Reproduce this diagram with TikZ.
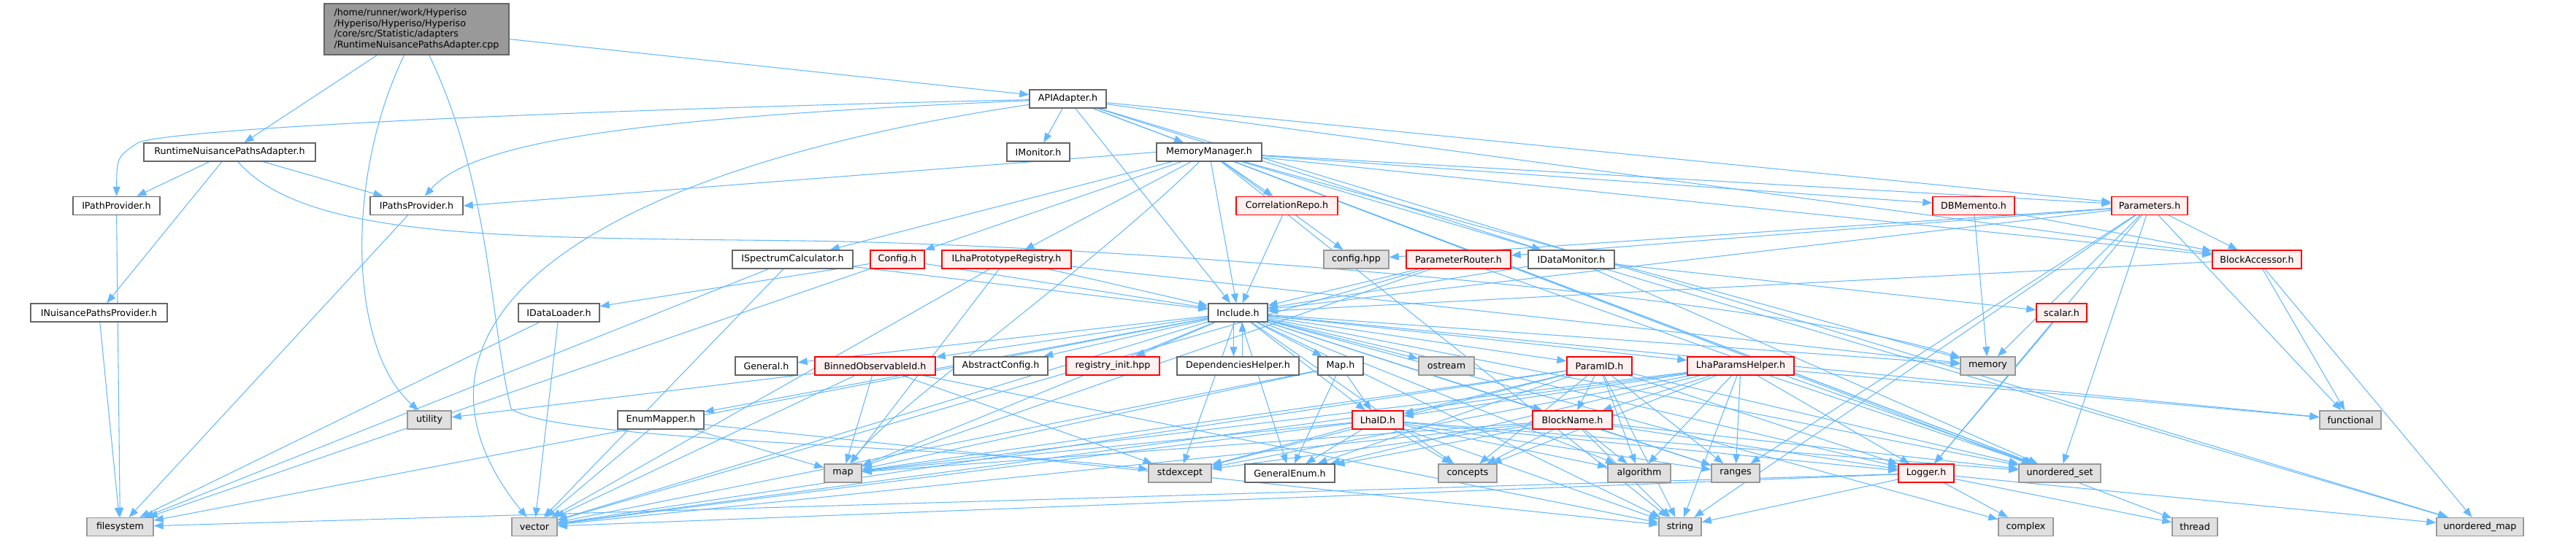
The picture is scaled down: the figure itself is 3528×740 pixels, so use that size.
\documentclass[tikz,border=0pt]{standalone}
\usepackage{fontspec}
\setmainfont{DejaVu Sans}
\usetikzlibrary{
	arrows.meta				% Triangle tips on the include arrows
	, backgrounds			% Keeps the arrows behind the boxes
}
\definecolor{edgeblue}{HTML}{63B8FF}
\definecolor{plaindraw}{HTML}{666666}
\definecolor{redfill}{HTML}{FFF0F0}
\definecolor{sysfill}{HTML}{E0E0E0}
\definecolor{sysdraw}{HTML}{999999}
\definecolor{srcfill}{HTML}{999999}

\begin{document}
\begin{tikzpicture}[
		x=0.02cm, y=-0.02cm
		, font=\fontsize{7.2}{8.3}\selectfont
		, file/.style={draw=plaindraw, fill=white, line width=0.8pt, minimum height=0.5cm, inner sep=0pt}
		, wd/.style={minimum width=#1*0.02cm}
		, redfile/.style={file, draw=red, fill=redfill}
		, sysfile/.style={file, draw=sysdraw, fill=sysfill}
		, srcfile/.style={file, fill=srcfill}
		, incl/.style={-{Triangle[length=0.26cm,width=0.2cm]}, draw=edgeblue, line width=0.6pt}
	]
	\useasboundingbox (0,0) rectangle (3528,740);

	% The adapter source file on top
	\node[srcfile, wd=253, minimum height=1.4cm, align=left] (src) at (570.5,40) {/home/runner/work/Hyperiso\\/Hyperiso/Hyperiso/Hyperiso\\/core/src/Statistic/adapters\\/RuntimeNuisancePathsAdapter.cpp};

	% Headers of the project
	\node[file, wd=235] (rnpa) at (314.5,208.5) {RuntimeNuisancePathsAdapter.h};
	\node[file, wd=105] (api) at (1462.5,135.5) {APIAdapter.h};
	\node[file, wd=119] (ipath) at (159.5,282) {IPathProvider.h};
	\node[file, wd=127] (ipaths) at (570.5,282) {IPathsProvider.h};
	\node[file, wd=187] (inuis) at (135.5,428.5) {INuisancePathsProvider.h};
	\node[file, wd=86] (imon) at (1422,208.5) {IMonitor.h};
	\node[file, wd=144] (memmgr) at (1656,208.5) {MemoryManager.h};
	\node[redfile, wd=139] (corr) at (1762.5,282) {CorrelationRepo.h};
	\node[redfile, wd=112] (dbm) at (2703,282) {DBMemento.h};
	\node[redfile, wd=104] (params) at (2944,282) {Parameters.h};
	\node[file, wd=165] (ispec) at (1085.5,355.5) {ISpectrumCalculator.h};
	\node[redfile, wd=74] (config) at (1229,355.5) {Config.h};
	\node[redfile, wd=177] (ilha) at (1378.5,355.5) {ILhaPrototypeRegistry.h};
	\node[sysfile, wd=89] (cfghpp) at (1857.5,355.5) {config.hpp};
	\node[redfile, wd=143] (prouter) at (1997.5,355.5) {ParameterRouter.h};
	\node[file, wd=118] (idmon) at (2152,355.5) {IDataMonitor.h};
	\node[redfile, wd=122] (baccess) at (3091,355.5) {BlockAccessor.h};
	\node[file, wd=111] (idload) at (765.5,428.5) {IDataLoader.h};
	\node[file, wd=81] (include) at (1695.5,428.5) {Include.h};
	\node[redfile, wd=69] (scalar) at (2823.5,428.5) {scalar.h};
	\node[file, wd=85] (general) at (1049.5,501.5) {General.h};
	\node[redfile, wd=165] (binned) at (1198.5,501.5) {BinnedObservableId.h};
	\node[file, wd=129] (absconf) at (1370.5,501.5) {AbstractConfig.h};
	\node[redfile, wd=128] (reginit) at (1524,501.5) {registry\_init.hpp};
	\node[file, wd=167] (dephelp) at (1695.5,501.5) {DependenciesHelper.h};
	\node[file, wd=62] (maph) at (1836,501.5) {Map.h};
	\node[sysfile, wd=76] (ostream) at (1981,501.5) {ostream};
	\node[redfile, wd=89] (paramid) at (2190.5,501.5) {ParamID.h};
	\node[redfile, wd=146] (lhaph) at (2384,501.5) {LhaParamsHelper.h};
	\node[sysfile, wd=75] (memory) at (2722.5,501.5) {memory};
	\node[sysfile, wd=60] (utility) at (588,575.5) {utility};
	\node[file, wd=118] (enummap) at (905,575.5) {EnumMapper.h};
	\node[redfile, wd=70] (lhaid) at (1887,575.5) {LhaID.h};
	\node[redfile, wd=109] (blockname) at (2153.5,575.5) {BlockName.h};
	\node[sysfile, wd=84] (functional) at (3219,575.5) {functional};
	\node[sysfile, wd=51] (map) at (1154.5,648.5) {map};
	\node[sysfile, wd=86] (stdexcept) at (1616,648.5) {stdexcept};
	\node[file, wd=123] (genenum) at (1766.5,648.5) {GeneralEnum.h};
	\node[sysfile, wd=80] (concepts) at (2010,648.5) {concepts};
	\node[sysfile, wd=86] (algorithm) at (2245,648.5) {algorithm};
	\node[sysfile, wd=66] (ranges) at (2377,648.5) {ranges};
	\node[redfile, wd=76] (logger) at (2638,648.5) {Logger.h};
	\node[sysfile, wd=112] (uset) at (2821,648.5) {unordered\_set};
	\node[sysfile, wd=91] (filesystem) at (164.5,722) {filesystem};
	\node[sysfile, wd=62] (vector) at (732,722) {vector};
	\node[sysfile, wd=58] (string) at (2301,722) {string};
	\node[sysfile, wd=75] (complex) at (2774.5,722) {complex};
	\node[sysfile, wd=62] (thread) at (3006,722) {thread};
	\node[sysfile, wd=119] (umap) at (3396.5,722) {unordered\_map};

	% Include arrows, one loop per including file
	\begin{scope}[on background layer]
		\foreach \b in {rnpa,api} \draw[incl] (src) -- (\b);
		\draw[incl] (src) .. controls (470,250) and (480,480) .. (utility);
		\draw[incl] (src) .. controls (672,250) and (672,450) .. (700,560) .. controls (760,605) and (1300,610) .. (stdexcept);
		\foreach \b in {ipath,ipaths,inuis} \draw[incl] (rnpa) -- (\b);
		\draw[incl] (rnpa) .. controls (420,330) and (700,325) .. (1100,330) .. controls (1500,335) and (2400,400) .. (memory);
		\foreach \a in {ipath,ipaths,inuis} \draw[incl] (\a) -- (filesystem);
		\draw[incl] (api) .. controls (800,150) and (250,175) .. (190,195) .. controls (160,215) .. (ipath);
		\draw[incl] (api) .. controls (900,160) and (650,190) .. (ipaths);
		\draw[incl] (api) .. controls (760,240) and (520,460) .. (vector);
		\foreach \b in {imon,memmgr,include,idmon,params,baccess,uset,umap} \draw[incl] (api) -- (\b);
		\draw[incl] (memmgr.west) -- (ipaths.east);
		\draw[incl] (memmgr) .. controls (1480,380) and (1220,560) .. (map);
		\foreach \b in {ispec,config,ilha,include,corr,cfghpp,dbm,params,baccess,memory,thread,uset,umap,string} \draw[incl] (memmgr) -- (\b);
		\draw[incl] (corr) -- (include);
		\foreach \b in {memory,baccess} \draw[incl] (dbm) -- (\b);
		\foreach \b in {cfghpp,prouter,baccess,include,memory,logger,functional,ranges,uset,string} \draw[incl] (params) -- (\b);
		\foreach \b in {include,map,vector,uset} \draw[incl] (prouter) -- (\b);
		\foreach \b in {include,scalar,uset} \draw[incl] (idmon) -- (\b);
		\foreach \b in {include,functional,umap} \draw[incl] (baccess) -- (\b);
		\foreach \b in {include,filesystem,vector} \draw[incl] (ispec) -- (\b);
		\foreach \b in {include,idload,filesystem} \draw[incl] (config) -- (\b);
		\foreach \b in {include,map,memory,vector} \draw[incl] (ilha) -- (\b);
		\foreach \b in {filesystem,vector} \draw[incl] (idload) -- (\b);
		\foreach \b in {general,binned,absconf,reginit,maph,ostream,paramid,lhaph,memory,enummap,blockname,lhaid,logger,map,stdexcept,genenum,concepts,vector,string,filesystem,uset,functional,algorithm,ranges,complex} \draw[incl] (include) -- (\b);
		\draw[incl] ([xshift=-0.12cm]include.south) -- ([xshift=-0.12cm]dephelp.north);
		\draw[incl] ([xshift=0.12cm]dephelp.north) -- ([xshift=0.12cm]include.south);
		\foreach \b in {utility,stdexcept,string,vector,map} \draw[incl] (binned) -- (\b);
		\foreach \b in {map,vector,string} \draw[incl] (enummap) -- (\b);
		\foreach \b in {lhaid,map,vector,genenum} \draw[incl] (maph) -- (\b);
		\foreach \b in {blockname,lhaid,concepts,algorithm,ranges,string,logger,map,stdexcept,genenum,vector,uset} \draw[incl] (paramid) -- (\b);
		\foreach \b in {blockname,lhaid,algorithm,ranges,logger,string,concepts,uset,map,vector,genenum,stdexcept,functional} \draw[incl] (lhaph) -- (\b);
		\foreach \b in {concepts,string,algorithm,ranges,logger,stdexcept,genenum,map,vector,uset} \draw[incl] (lhaid) -- (\b);
		\foreach \b in {concepts,algorithm,ranges,string,logger,genenum,stdexcept,map,vector,uset} \draw[incl] (blockname) -- (\b);
		\foreach \b in {string,complex,thread,umap,vector,filesystem} \draw[incl] (logger) -- (\b);
		\draw[incl] (scalar) -- (logger);
	\end{scope}
\end{tikzpicture}
\end{document}
